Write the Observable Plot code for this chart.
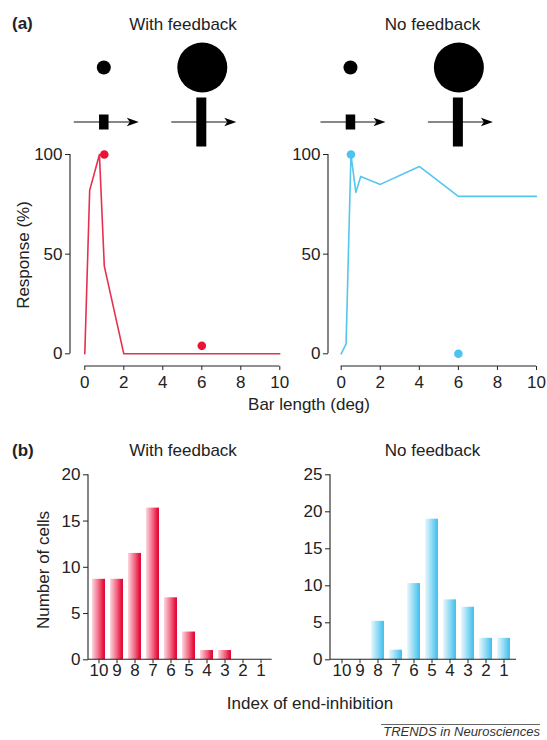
<!DOCTYPE html>
<html><head><meta charset="utf-8">
<script src="https://cdn.jsdelivr.net/npm/d3@7"></script>
<script src="https://cdn.jsdelivr.net/npm/@observablehq/plot@0.6"></script>
<style>
html,body{margin:0;padding:0;background:#fff;}
#fig{position:relative;width:547px;height:740px;}
#fig > svg{position:absolute;left:0;top:0;}
</style></head><body><div id="fig"></div>
<script>
// ---------- data ----------
const barLengthFb = [0, 0.25, 0.75, 1, 2, 10];
const responseFb = [0, 82, 100, 44, 0, 0];
const barLengthNoFb = [0, 0.25, 0.5, 0.75, 1, 2, 4, 6, 10];
const responseNoFb = [0, 5, 100, 81, 89, 85, 94, 79, 79];
const stimLengthFb = [1, 6];
const stimResponseFb = [100, 4];
const stimLengthNoFb = [0.5, 6];
const stimResponseNoFb = [100, 0];
const lengthTicks = [0, 2, 4, 6, 8, 10];
const responseTicks = [0, 50, 100];
const indexCategories = ["10", "9", "8", "7", "6", "5", "4", "3", "2", "1"];
const cellsFb = [8.7, 8.7, 11.5, 16.4, 6.7, 3, 1, 1, 0, 0];
const cellsNoFb = [0, 0, 5.2, 1.3, 10.3, 19, 8.1, 7.1, 2.9, 2.9];
const cellTicksFb = [0, 5, 10, 15, 20];
const cellTicksNoFb = [0, 5, 10, 15, 20, 25];

// ---------- style ----------
const W = 547, H = 740;
const FONT = '"Liberation Sans", Arial, Helvetica, sans-serif';
const INK = "#222";
const baseStyle = {background: "transparent", fontFamily: FONT, fontSize: "17px", color: INK, overflow: "visible"};

// axis lines for panel (a)
function axisLinesA(index, {x, y}, values, dims) {
  const g = d3.create("svg:g").attr("stroke", INK).attr("stroke-width", 1.1).attr("fill", "none");
  const left = dims.marginLeft, bottom = dims.height - dims.marginBottom;
  const [y0, y1] = d3.extent(responseTicks), [x0, x1] = d3.extent(lengthTicks);
  g.append("line").attr("x1", left).attr("x2", left).attr("y1", y(y1)).attr("y2", y(y0));
  g.append("line").attr("x1", x(x0)).attr("x2", x(x1)).attr("y1", bottom).attr("y2", bottom);
  return g.node();
}
// axis lines for panel (b)
function axisLinesB(index, scales, values, dims) {
  const g = d3.create("svg:g").attr("stroke", INK).attr("stroke-width", 1.1).attr("fill", "none");
  const left = dims.marginLeft, right = dims.width - dims.marginRight;
  const top = dims.marginTop, bottom = dims.height - dims.marginBottom;
  g.append("line").attr("x1", left).attr("x2", left).attr("y1", top).attr("y2", bottom);
  g.append("line").attr("x1", left).attr("x2", right).attr("y1", bottom).attr("y2", bottom);
  return g.node();
}
// stimulus pictograms (disc + bar on a moving arrow) above each stimulus length
function pictogram(stims) {
  const spec = [{r: 7, bw: 9.5, bh: 15}, {r: 25, bw: 10, bh: 49}];
  return (index, {x}) => {
    const g = d3.create("svg:g").attr("fill", "#000");
    stims.forEach((s, i) => {
      const cx = x(s), sp = spec[i], ay = 122;
      g.append("circle").attr("cx", cx + (i ? 1 : 0)).attr("cy", 67.5).attr("r", sp.r);
      g.append("line").attr("x1", cx - 30).attr("x2", cx + 26).attr("y1", ay).attr("y2", ay)
        .attr("stroke", "#111").attr("stroke-width", 1.2);
      g.append("path").attr("d", `M${cx + 35},${ay} L${cx + 23},${ay - 4.2} L${cx + 26},${ay} L${cx + 23},${ay + 4.2} Z`);
      g.append("rect").attr("x", cx - sp.bw / 2).attr("y", ay - sp.bh / 2).attr("width", sp.bw).attr("height", sp.bh);
    });
    return g.node();
  };
}
function gradient(id, stops) {
  return () => {
    const defs = d3.create("svg:defs");
    const lg = defs.append("linearGradient").attr("id", id)
      .attr("x1", 0).attr("x2", 1).attr("y1", 0).attr("y2", 0);
    stops.forEach(([o, c]) => lg.append("stop").attr("offset", o).attr("stop-color", c));
    return defs.node();
  };
}

function panelA(lx, ly, sx, sy, yAxisX, xRange, lineColor, dotColor) {
  return Plot.plot({
    width: W, height: H,
    marginLeft: yAxisX, marginRight: W - xRange[1] - 1, marginTop: 154, marginBottom: H - 366,
    style: baseStyle,
    x: {domain: d3.extent(lengthTicks), range: xRange},
    y: {domain: d3.extent(responseTicks), range: [353.3, 154]},
    marks: [
      axisLinesA,
      Plot.axisY({ticks: responseTicks, tickSize: 5, tickPadding: 3, label: null, stroke: INK}),
      Plot.axisX({ticks: lengthTicks, tickSize: 4, tickPadding: 5, label: null, stroke: INK}),
      Plot.line(lx, {x: lx, y: ly, stroke: lineColor, strokeWidth: 1.6}),
      Plot.dot(sx, {x: sx, y: sy, r: 4.3, fill: dotColor, stroke: null}),
      pictogram(sx)
    ]
  });
}

function panelB(cells, yTicks, xRange, padOuter, gid, stops) {
  return Plot.plot({
    width: W, height: H,
    marginLeft: xRange[0], marginRight: W - xRange[1], marginTop: 474.3, marginBottom: H - 659.3,
    style: baseStyle,
    x: {domain: indexCategories, range: xRange, paddingInner: 0.27, paddingOuter: padOuter},
    y: {domain: d3.extent(yTicks)},
    marks: [
      gradient(gid, stops),
      Plot.barY(cells, {x: indexCategories, y: cells, fill: `url(#${gid})`}),
      axisLinesB,
      Plot.axisY({ticks: yTicks, tickSize: 5, tickPadding: 3, label: null, stroke: INK}),
      Plot.axisX({tickSize: 4, tickPadding: 0, label: null, stroke: INK})
    ]
  });
}

const fig = document.getElementById("fig");
fig.append(panelA(barLengthFb, responseFb, stimLengthFb, stimResponseFb, 70, [84.3, 279.3], "#e5304f", "#ea1236"));
fig.append(panelA(barLengthNoFb, responseNoFb, stimLengthNoFb, stimResponseNoFb, 328, [340.7, 536], "#55c6ec", "#4cc4ef"));
fig.append(panelB(cellsFb, cellTicksFb, [88, 271.7], 0.16, "gradRed",
  [["0%", "#fcd7df"], ["55%", "#f2607d"], ["85%", "#e6163f"], ["100%", "#e00737"]]));
fig.append(panelB(cellsNoFb, cellTicksNoFb, [330, 516], 0.2, "gradBlue",
  [["0%", "#e8f8fe"], ["55%", "#8ad9f5"], ["85%", "#55c6ef"], ["100%", "#47c0ec"]]));

// ---------- texts ----------
const txt = d3.select(fig).append("svg").attr("width", W).attr("height", H)
  .style("font-family", FONT).attr("fill", INK);
const labels = [
  {t: "(a)", x: 12, y: 29, a: "start", w: "bold"},
  {t: "With feedback", x: 183, y: 29.5, a: "middle"},
  {t: "No feedback", x: 432.5, y: 29.5, a: "middle"},
  {t: "Bar length (deg)", x: 309, y: 409.5, a: "middle"},
  {t: "(b)", x: 12, y: 456, a: "start", w: "bold"},
  {t: "With feedback", x: 183, y: 456, a: "middle"},
  {t: "No feedback", x: 432.5, y: 456, a: "middle"},
  {t: "Index of end-inhibition", x: 310, y: 709, a: "middle"}
];
labels.forEach(d => txt.append("text").attr("x", d.x).attr("y", d.y).attr("text-anchor", d.a)
  .attr("font-size", 17).attr("font-weight", d.w || "normal").text(d.t));
[{t: "Response (%)", x: 29, y: 255}, {t: "Number of cells", x: 48.5, y: 570}].forEach(d =>
  txt.append("text").attr("transform", `translate(${d.x},${d.y}) rotate(-90)`)
    .attr("text-anchor", "middle").attr("font-size", 17).text(d.t));
txt.append("line").attr("x1", 381).attr("x2", 540).attr("y1", 724.5).attr("y2", 724.5)
  .attr("stroke", "#555").attr("stroke-width", 0.9);
txt.append("text").attr("x", 540).attr("y", 736).attr("text-anchor", "end")
  .attr("font-size", 13).attr("font-style", "italic").attr("fill", "#333").text("TRENDS in Neurosciences");
</script></body></html>
